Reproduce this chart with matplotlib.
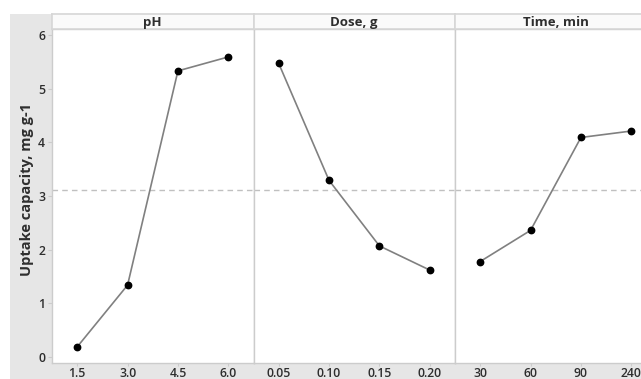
import matplotlib.pyplot as plt
from matplotlib.patches import Rectangle

plt.rcParams['font.family'] = ['Open Sans', 'DejaVu Sans']

# main effects on uptake capacity
factors = ['pH', 'Dose, g', 'Time, min']
ph_levels = ['1.5', '3.0', '4.5', '6.0']
dose_levels = ['0.05', '0.10', '0.15', '0.20']
time_levels = ['30', '60', '90', '240']
ph_uptake = [0.19, 1.34, 5.33, 5.59]
dose_uptake = [5.47, 3.29, 2.07, 1.62]
time_uptake = [1.78, 2.36, 4.09, 4.21]

levels = [ph_levels, dose_levels, time_levels]
uptake = [ph_uptake, dose_uptake, time_uptake]
grand_mean = sum(ph_uptake) / len(ph_uptake)

W, H = 641, 379
fig = plt.figure(figsize=(W / 100, H / 100), dpi=100)
fig.patch.set_facecolor('white')

# grey frame behind the panels
bg = fig.add_axes([10 / W, 0, 1 - 10 / W, (H - 14) / H], zorder=-5)
bg.set_axis_off()
bg.add_patch(Rectangle((0, 0), 1, 1, transform=bg.transAxes,
                       facecolor='#e6e6e6', edgecolor='none'))

edge = '#cccccc'
txt = '#2e2e2e'
pw = 201.5
top, bot = 29, 363
for i in range(3):
    x0 = 52 + i * pw
    ax = fig.add_axes([x0 / W, (H - bot) / H, pw / W, (bot - top) / H])
    ax.set_facecolor('white')
    xs = list(range(len(levels[i])))
    ax.axhline(grand_mean, color='#c0c0c0', lw=1, ls=(0, (4, 3)), zorder=1)
    ax.plot(xs, uptake[i], color='#808080', lw=1.2, zorder=2)
    ax.plot(xs, uptake[i], 'o', color='black', ms=4.6, zorder=3)
    ax.set_xlim(-0.5, 3.5)
    ax.set_ylim(-0.11, 6.11)
    ax.set_xticks(xs)
    ax.set_xticklabels(levels[i])
    ax.set_yticks(range(7))
    ax.tick_params(axis='both', colors=edge, labelcolor=txt, labelsize=8.8,
                   length=3, width=0.8)
    ax.tick_params(axis='x', pad=1, length=2)
    ax.tick_params(axis='y', pad=2)
    for lbl in ax.get_xticklabels() + ax.get_yticklabels():
        lbl.set_fontweight('semibold')
    for s in ax.spines.values():
        s.set_color(edge)
        s.set_linewidth(1)
    if i > 0:
        ax.tick_params(axis='y', left=False, labelleft=False)

    # factor header strip
    hx = fig.add_axes([x0 / W, (H - top) / H, pw / W, 15 / H])
    hx.set_facecolor('#fafafa')
    hx.set_xticks([])
    hx.set_yticks([])
    for s in hx.spines.values():
        s.set_color('#d6d6d6')
        s.set_linewidth(1.2)
    hx.text(0.5, 0.45, factors[i], ha='center', va='center', fontsize=9.5,
            fontweight='bold', color=txt, transform=hx.transAxes)

fig.text(27 / W, 1 - 190 / H, 'Uptake capacity, mg g-1', rotation=90, ha='center',
         va='center', fontsize=10.5, fontweight='bold', color=txt)

fig.savefig('out.png', dpi=100)
